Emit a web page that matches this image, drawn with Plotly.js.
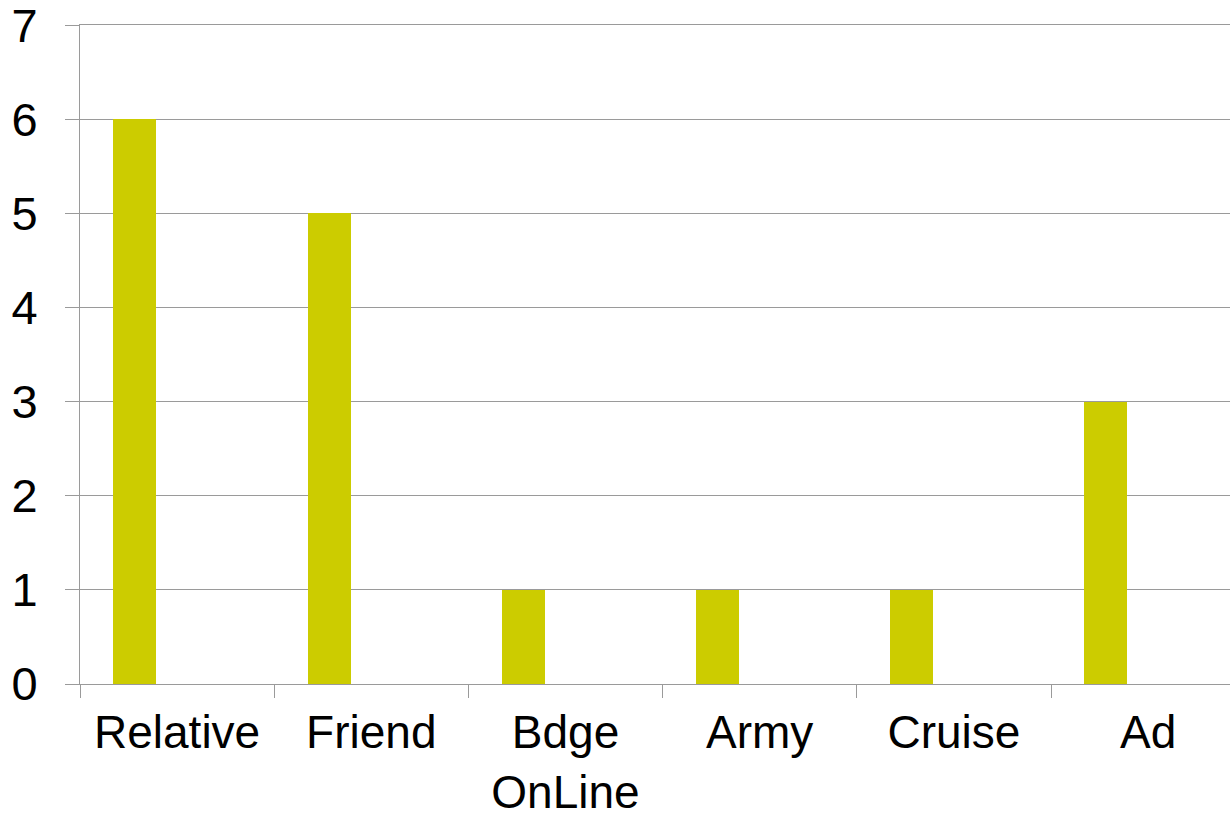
<!DOCTYPE html>
<html>
<head>
<meta charset="utf-8">
<script src="https://cdn.plot.ly/plotly-3.0.1.min.js"></script>
<style>
html,body{margin:0;padding:0;background:#fff;}
#chart{width:1230px;height:813px;}
</style>
</head>
<body>
<div id="chart"></div>
<script>
var categories = ["Relative", "Friend", "Bdge<br>OnLine", "Army", "Cruise", "Ad"];
var counts = [6, 5, 1, 1, 1, 3];
var yTicks = [0, 1, 2, 3, 4, 5, 6, 7];

var grey = "#9a9a9a";
var trace = {
  type: "bar",
  x: categories,
  y: counts,
  marker: {color: "#cccc00", line: {width: 0}},
  width: 0.2214,
  offset: -0.3285,
  hoverinfo: "x+y"
};

var layout = {
  width: 1230,
  height: 813,
  margin: {l: 80, r: 0, t: 25, b: 129, pad: 0},
  paper_bgcolor: "#ffffff",
  plot_bgcolor: "#ffffff",
  showlegend: false,
  font: {family: "Liberation Sans, Arial, sans-serif", size: 47, color: "#000000"},
  xaxis: {
    type: "category",
    range: [-0.5, 5.4217],
    tickson: "boundaries",
    ticks: "outside",
    ticklen: 13,
    tickwidth: 1,
    tickcolor: grey,
    showline: true,
    mirror: true,
    linecolor: grey,
    linewidth: 1,
    showgrid: false,
    zeroline: false,
    ticklabelstandoff: 8,
    ticklabeloverflow: "allow",
    tickfont: {size: 46, color: "#000000"}
  },
  yaxis: {
    range: [0, 7.002],
    tickvals: yTicks,
    ticks: "outside",
    ticklen: 14,
    tickwidth: 1,
    tickcolor: grey,
    showline: true,
    linecolor: grey,
    linewidth: 1,
    showgrid: true,
    gridcolor: grey,
    gridwidth: 1,
    zeroline: false,
    ticklabelstandoff: 18,
    ticklabeloverflow: "allow",
    tickfont: {size: 47, color: "#000000"}
  },
  bargap: 0
};

Plotly.newPlot("chart", [trace], layout, {displayModeBar: false, staticPlot: true});
</script>
</body>
</html>
